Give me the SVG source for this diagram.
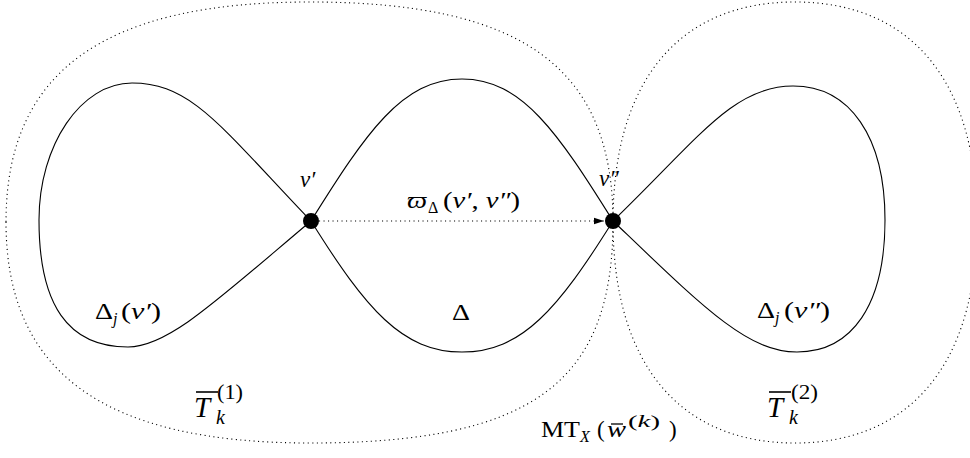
<svg xmlns="http://www.w3.org/2000/svg" width="970" height="458" viewBox="0 0 970 458">
<style>
.solid{fill:none;stroke:#000;stroke-width:1.1}
.dot{fill:none;stroke:#000;stroke-width:1.1;stroke-dasharray:1.1 3.4}
.t{font-family:"Liberation Serif","DejaVu Serif",serif;font-size:23px;fill:#000}
.i{font-style:italic}
.sub{font-size:16px}
.big{font-size:29px}
.mid{font-size:20px}
.bar{stroke:#000;stroke-width:1.6}
.vx{fill:#000}
</style>
<defs>
<marker id="ah" markerUnits="userSpaceOnUse" markerWidth="12" markerHeight="8" refX="10" refY="4" orient="auto"><path d="M0,0.8 L10,4 L0,7.2 Z" fill="#000"/></marker>
</defs>

<g id="region-T1">
<path class="dot" d="M6,222 C6,72 103,2 310,2 C523,2 613,68 613,222 C613,383 532,443 310,443 C103,443 6,372 6,222 Z"/>
<line class="bar" x1="196" y1="392" x2="218" y2="392"/>
<text class="t i big" x="194" y="417">T</text>
<text class="t i mid" x="216" y="424">k</text>
<text class="t mid" x="217" y="399" textLength="26" lengthAdjust="spacingAndGlyphs">(1)</text>
</g>

<g id="region-T2">
<path class="dot" d="M613,222 C613,81 679,2 795,2 C911,2 977,81 977,222 C977,363 911,443 795,443 C679,443 613,363 613,222 Z"/>
<line class="bar" x1="769" y1="392" x2="791" y2="392"/>
<text class="t i big" x="767" y="417">T</text>
<text class="t i mid" x="789" y="424">k</text>
<text class="t mid" x="791" y="399" textLength="27" lengthAdjust="spacingAndGlyphs">(2)</text>
</g>

<g id="label-MT">
<text class="t" x="541" y="437" textLength="39" lengthAdjust="spacingAndGlyphs">MT</text>
<text class="t i sub" x="580" y="442">X</text>
<text class="t" x="597" y="437">(</text>
<text class="t i" x="607" y="437" textLength="19" lengthAdjust="spacingAndGlyphs">w</text>
<line class="bar" x1="611" y1="424" x2="623" y2="424" style="stroke-width:1.3"/>
<text class="t" style="font-size:17px" x="628" y="427" textLength="32" lengthAdjust="spacingAndGlyphs">(<tspan class="i">k</tspan>)</text>
<text class="t" x="669" y="437">)</text>
</g>

<g id="loop-left">
<path class="solid" d="M311,221 C221,127 192,83 132,83 C81,83 39,145 39,220 C39,305 68,347 128,347 C168,347 216,301 311,221 Z"/>
<text class="t" x="95" y="319" textLength="18" lengthAdjust="spacingAndGlyphs">Δ</text>
<text class="t i sub" x="113" y="324">j</text>
<text class="t" x="121" y="319" textLength="40" lengthAdjust="spacingAndGlyphs">(<tspan class="i">v′</tspan>)</text>
</g>

<g id="loop-middle">
<path class="solid" d="M311,221 C366,133 402,79 462,79 C522,79 558,133 613,221 C558,309 522,352 462,352 C402,352 366,309 311,221 Z"/>
<text class="t" x="452" y="320" textLength="18" lengthAdjust="spacingAndGlyphs">Δ</text>
</g>

<g id="loop-right">
<path class="solid" d="M613,221 C698,139 733,86 793,86 C850,86 885,137 885,220 C885,305 852,352 797,352 C747,352 703,307 613,221 Z"/>
<text class="t" x="757" y="318" textLength="18" lengthAdjust="spacingAndGlyphs">Δ</text>
<text class="t i sub" x="775" y="323">j</text>
<text class="t" x="784" y="318" textLength="46" lengthAdjust="spacingAndGlyphs">(<tspan class="i">v″</tspan>)</text>
</g>

<g id="connectors">
<line class="dot" x1="319" y1="221" x2="604" y2="221" marker-end="url(#ah)"/>
<text class="t i" x="407" y="208" textLength="20" lengthAdjust="spacingAndGlyphs">ϖ</text>
<text class="t sub" x="428" y="213">Δ</text>
<text class="t" x="443" y="208" textLength="77" lengthAdjust="spacingAndGlyphs">(<tspan class="i">v′</tspan>, <tspan class="i">v″</tspan>)</text>
</g>

<g id="node-v1">
<circle class="vx" cx="311" cy="221" r="8"/>
<text class="t i" x="300" y="187">v′</text>
</g>

<g id="node-v2">
<circle class="vx" cx="613" cy="221" r="8"/>
<text class="t i" x="599" y="186">v″</text>
</g>
</svg>
